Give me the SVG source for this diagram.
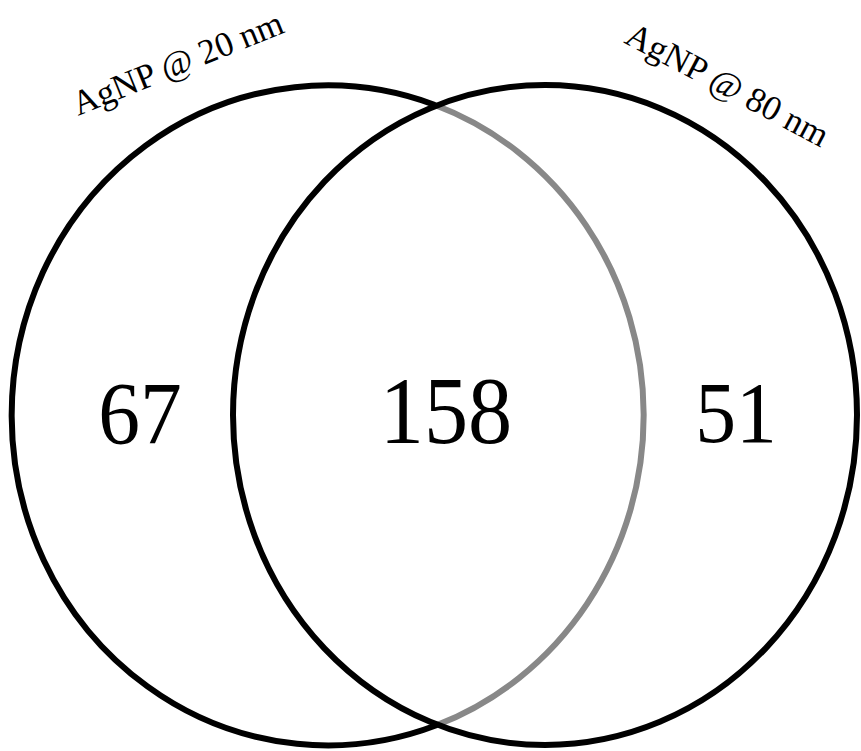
<svg xmlns="http://www.w3.org/2000/svg" width="861" height="751" viewBox="0 0 861 751">
<style>
.c{fill:none;stroke:#000;stroke-width:6}
.g{fill:none;stroke:#888;stroke-width:6}
.n{font-family:"Liberation Serif",serif;fill:#000;text-anchor:middle}
.lbl{font-family:"Liberation Serif",serif;font-size:35px;fill:#000;text-anchor:middle}
</style>
<rect width="861" height="751" fill="#fff"/>
<g id="set20">
<path class="c" d="M435,105 A316,330 0 1 0 437,725"/>
<path class="g" d="M435,105 A316,330 0 0 1 437,725"/>
<text class="lbl" transform="translate(182,74) rotate(-22)">AgNP @ 20 nm</text>
</g>
<g id="set80">
<ellipse class="c" cx="545" cy="415" rx="312" ry="330"/>
<text class="lbl" transform="translate(722,95) rotate(28)">AgNP @ 80 nm</text>
</g>
<g id="counts">
<g transform="translate(140,443) scale(0.95,1)"><text class="n" x="0" y="0" font-size="88">67</text></g>
<g transform="translate(446,443) scale(0.93,1)"><text class="n" x="0" y="0" font-size="95">158</text></g>
<g transform="translate(736,442) scale(0.95,1)"><text class="n" x="0" y="0" font-size="86">51</text></g>
</g>
</svg>
